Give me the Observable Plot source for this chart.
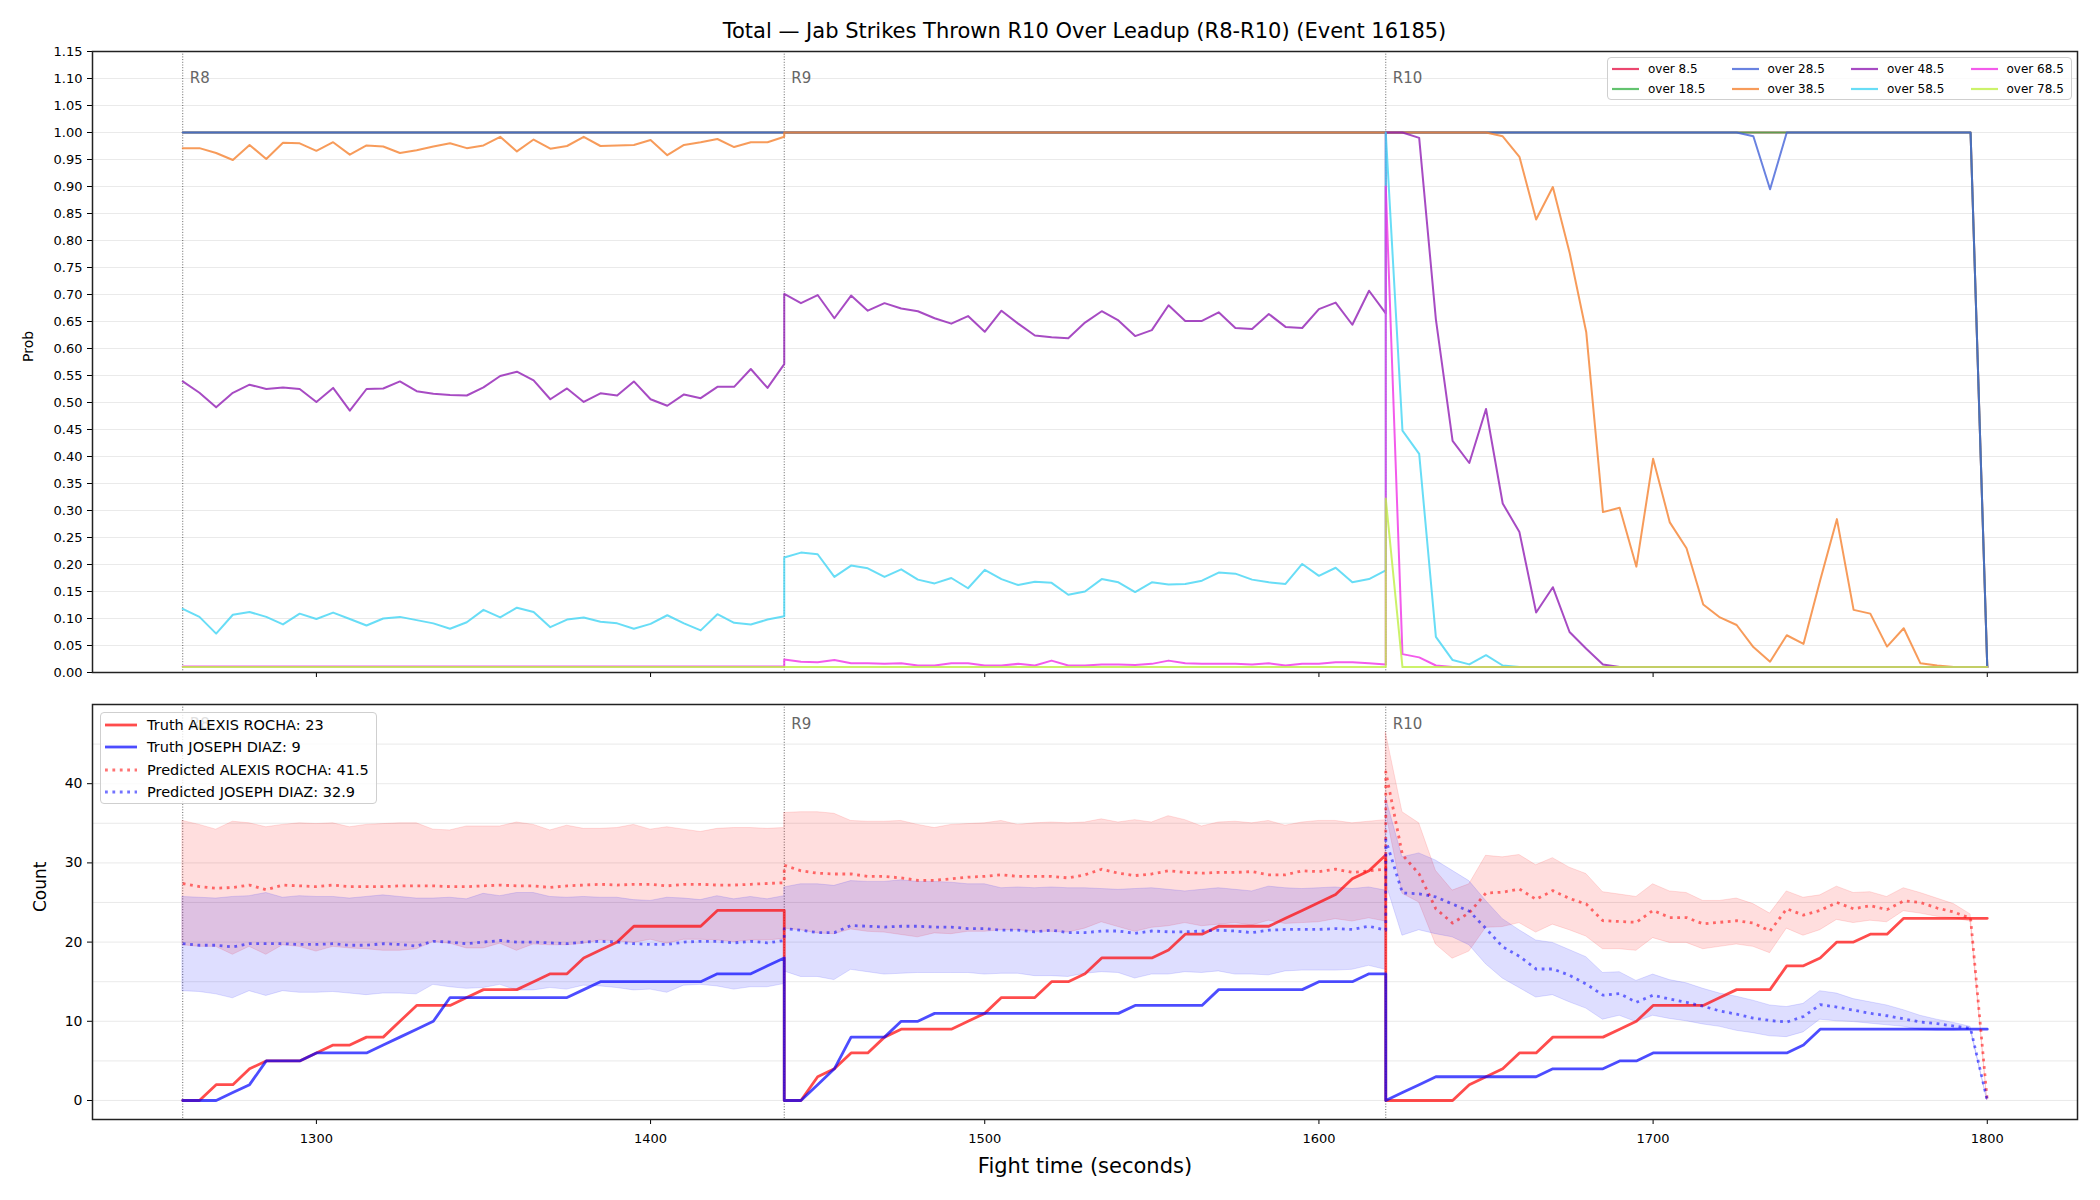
<!DOCTYPE html>
<html><head><meta charset="utf-8">
<script src="https://cdn.jsdelivr.net/npm/d3@7"></script>
<script src="https://cdn.jsdelivr.net/npm/@observablehq/plot@0.6"></script>
<style>
html,body{margin:0;padding:0;background:#fff;}
body{width:2100px;height:1200px;position:relative;overflow:hidden;font-family:"DejaVu Sans",sans-serif;color:#000;}
#title{position:absolute;left:92px;width:1985px;top:18px;text-align:center;font-size:21px;line-height:26px;}
#top{position:absolute;left:0;top:40px;}
#bottom{position:absolute;left:0;top:688px;}
.legend{position:absolute;background:rgba(255,255,255,0.8);border:1px solid #cfcfcf;border-radius:4px;box-sizing:border-box;}
.item{position:absolute;display:flex;align-items:center;white-space:nowrap;}
.item svg{display:block;}
</style></head><body>
<div id="title"></div>
<div id="top"></div>
<div id="bottom"></div>
<div id="legTop" class="legend"></div>
<div id="legBot" class="legend"></div>
<script>
// ---------------- DATA ----------------
const titleText = "Total — Jab Strikes Thrown R10 Over Leadup (R8-R10) (Event 16185)";
const roundStarts = [1260, 1440, 1620];
const roundNames = ["R8", "R9", "R10"];
const stepSeconds = 5;
const pointsPerRound = 37;
const xTicks = [1300, 1400, 1500, 1600, 1700, 1800];
const probTicks = [0,0.05,0.1,0.15,0.2,0.25,0.3,0.35,0.4,0.45,0.5,0.55,0.6,0.65,0.7,0.75,0.8,0.85,0.9,0.95,1,1.05,1.1,1.15];
const countTicks = [0, 10, 20, 30, 40];
const countGrid = [0, 5, 10, 15, 20, 25, 30, 35, 40, 45];
const thresholdLabels = ["over 8.5","over 18.5","over 28.5","over 38.5","over 48.5","over 58.5","over 68.5","over 78.5"];

const pOver8 = [
1,1,1,1,1,1,1,1,1,1,1,1,1,1,1,1,1,1,1,1,1,1,1,1,1,1,1,1,1,1,1,1,1,1,1,1,1,
1,1,1,1,1,1,1,1,1,1,1,1,1,1,1,1,1,1,1,1,1,1,1,1,1,1,1,1,1,1,1,1,1,1,1,1,1,
1,1,1,1,1,1,1,1,1,1,1,1,1,1,1,1,1,1,1,1,1,1,1,1,1,1,1,1,1,1,1,1,1,1,1,1,0.01];
const pOver18 = [
1,1,1,1,1,1,1,1,1,1,1,1,1,1,1,1,1,1,1,1,1,1,1,1,1,1,1,1,1,1,1,1,1,1,1,1,1,
1,1,1,1,1,1,1,1,1,1,1,1,1,1,1,1,1,1,1,1,1,1,1,1,1,1,1,1,1,1,1,1,1,1,1,1,1,
1,1,1,1,1,1,1,1,1,1,1,1,1,1,1,1,1,1,1,1,1,1,1,1,1,1,1,1,1,1,1,1,1,1,1,1,0.01];
const pOver28 = [
1,1,1,1,1,1,1,1,1,1,1,1,1,1,1,1,1,1,1,1,1,1,1,1,1,1,1,1,1,1,1,1,1,1,1,1,1,
1,1,1,1,1,1,1,1,1,1,1,1,1,1,1,1,1,1,1,1,1,1,1,1,1,1,1,1,1,1,1,1,1,1,1,1,1,
1,1,1,1,1,1,1,1,1,1,1,1,1,1,1,1,1,1,1,1,1,1,0.993,0.895,1,1,1,1,1,1,1,1,1,1,1,1,0.01];
const pOver38 = [
0.971,0.971,0.962,0.949,0.977,0.951,0.981,0.980,0.966,0.982,0.959,0.976,0.974,0.962,0.967,0.974,0.980,0.971,0.976,0.992,0.965,0.987,0.970,0.975,0.992,0.975,0.976,0.977,0.986,0.958,0.977,0.982,0.988,0.973,0.982,0.982,0.992,
1,1,1,1,1,1,1,1,1,1,1,1,1,1,1,1,1,1,1,1,1,1,1,1,1,1,1,1,1,1,1,1,1,1,1,1,1,
1,1,1,1,1,1,1,0.993,0.955,0.839,0.899,0.778,0.63,0.297,0.305,0.196,0.396,0.278,0.23,0.126,0.102,0.088,0.047,0.02,0.069,0.053,0.171,0.284,0.116,0.109,0.048,0.082,0.017,0.013,0.01,0.01,0.01];
const pOver48 = [
0.539,0.518,0.491,0.518,0.533,0.525,0.528,0.525,0.501,0.527,0.485,0.525,0.526,0.539,0.521,0.516,0.514,0.513,0.528,0.549,0.557,0.541,0.506,0.526,0.501,0.517,0.513,0.539,0.506,0.494,0.515,0.508,0.529,0.529,0.562,0.527,0.571,
0.701,0.684,0.699,0.656,0.698,0.670,0.684,0.674,0.669,0.656,0.646,0.660,0.631,0.670,0.646,0.624,0.621,0.619,0.648,0.669,0.652,0.623,0.634,0.680,0.651,0.651,0.667,0.638,0.636,0.664,0.640,0.638,0.673,0.685,0.644,0.707,0.665,
1,1,0.99,0.654,0.429,0.388,0.488,0.313,0.26,0.111,0.158,0.075,0.044,0.015,0.01,0.01,0.01,0.01,0.01,0.01,0.01,0.01,0.01,0.01,0.01,0.01,0.01,0.01,0.01,0.01,0.01,0.01,0.01,0.01,0.01,0.01,0.01];
const pOver58 = [
0.118,0.103,0.072,0.107,0.112,0.103,0.089,0.109,0.099,0.111,0.099,0.087,0.100,0.103,0.097,0.091,0.081,0.093,0.116,0.102,0.120,0.112,0.084,0.098,0.102,0.094,0.091,0.081,0.090,0.106,0.091,0.078,0.108,0.092,0.089,0.098,0.104,
0.213,0.222,0.219,0.177,0.198,0.193,0.177,0.191,0.172,0.165,0.175,0.156,0.190,0.173,0.162,0.168,0.166,0.144,0.150,0.173,0.167,0.149,0.167,0.163,0.164,0.170,0.185,0.183,0.172,0.167,0.164,0.201,0.179,0.194,0.167,0.173,0.189,
1,0.448,0.405,0.066,0.023,0.015,0.032,0.013,0.01,0.01,0.01,0.01,0.01,0.01,0.01,0.01,0.01,0.01,0.01,0.01,0.01,0.01,0.01,0.01,0.01,0.01,0.01,0.01,0.01,0.01,0.01,0.01,0.01,0.01,0.01,0.01,0.01];
const pOver68 = [
0.011,0.011,0.011,0.011,0.011,0.011,0.011,0.011,0.011,0.011,0.011,0.011,0.011,0.011,0.011,0.011,0.011,0.011,0.011,0.011,0.011,0.011,0.011,0.011,0.011,0.011,0.011,0.011,0.011,0.011,0.011,0.011,0.011,0.011,0.011,0.011,0.011,
0.024,0.020,0.019,0.023,0.017,0.017,0.016,0.017,0.013,0.013,0.017,0.017,0.013,0.013,0.016,0.013,0.022,0.013,0.013,0.015,0.015,0.014,0.016,0.022,0.017,0.016,0.016,0.016,0.015,0.017,0.013,0.016,0.016,0.019,0.019,0.017,0.015,
0.90,0.034,0.028,0.013,0.01,0.01,0.01,0.01,0.01,0.01,0.01,0.01,0.01,0.01,0.01,0.01,0.01,0.01,0.01,0.01,0.01,0.01,0.01,0.01,0.01,0.01,0.01,0.01,0.01,0.01,0.01,0.01,0.01,0.01,0.01,0.01,0.01];
const pOver78 = [
0.01,0.01,0.01,0.01,0.01,0.01,0.01,0.01,0.01,0.01,0.01,0.01,0.01,0.01,0.01,0.01,0.01,0.01,0.01,0.01,0.01,0.01,0.01,0.01,0.01,0.01,0.01,0.01,0.01,0.01,0.01,0.01,0.01,0.01,0.01,0.01,0.01,
0.01,0.01,0.01,0.01,0.01,0.01,0.01,0.01,0.01,0.01,0.01,0.01,0.01,0.01,0.01,0.01,0.01,0.01,0.01,0.01,0.01,0.01,0.01,0.01,0.01,0.01,0.01,0.01,0.01,0.01,0.01,0.01,0.01,0.01,0.01,0.01,0.01,
0.322,0.01,0.01,0.01,0.01,0.01,0.01,0.01,0.01,0.01,0.01,0.01,0.01,0.01,0.01,0.01,0.01,0.01,0.01,0.01,0.01,0.01,0.01,0.01,0.01,0.01,0.01,0.01,0.01,0.01,0.01,0.01,0.01,0.01,0.01,0.01,0.01];

const fighterNames = ["ALEXIS ROCHA", "JOSEPH DIAZ"];
const predictedLegendValues = [41.5, 32.9];

const truthRocha = [
0,0,2,2,4,5,5,5,6,7,7,8,8,10,12,12,12,13,14,14,14,15,16,16,18,19,20,22,22,22,22,22,24,24,24,24,24,
0,0,3,4,6,6,8,9,9,9,9,10,11,13,13,13,15,15,16,18,18,18,18,19,21,21,22,22,22,22,23,24,25,26,28,29,31,
0,0,0,0,0,2,3,4,6,6,8,8,8,8,9,10,12,12,12,12,13,14,14,14,17,17,18,20,20,21,21,23,23,23,23,23,23];
const truthDiaz = [
0,0,0,1,2,5,5,5,6,6,6,6,7,8,9,10,13,13,13,13,13,13,13,13,14,15,15,15,15,15,15,15,16,16,16,17,18,
0,0,2,4,8,8,8,10,10,11,11,11,11,11,11,11,11,11,11,11,11,12,12,12,12,12,14,14,14,14,14,14,15,15,15,16,16,
0,1,2,3,3,3,3,3,3,3,4,4,4,4,5,5,6,6,6,6,6,6,6,6,6,7,9,9,9,9,9,9,9,9,9,9,9];
const predRocha = [
27.4,27.0,26.8,26.9,27.2,26.6,27.2,27.1,27.0,27.2,27.0,27.0,27.0,27.1,27.1,27.1,27.0,27.0,27.1,27.2,27.1,27.1,26.9,27.1,27.2,27.3,27.2,27.3,27.3,27.1,27.3,27.3,27.2,27.2,27.3,27.4,27.5,
29.7,29.0,28.7,28.6,28.6,28.3,28.3,28.1,27.8,27.8,28.0,28.2,28.3,28.5,28.3,28.3,28.3,28.1,28.5,29.2,28.7,28.4,28.6,29.0,28.8,28.7,28.8,28.8,28.9,28.5,28.5,29.0,28.9,29.2,28.8,29.0,29.2,
41.5,31.0,28.6,24.2,22.4,23.7,26.2,26.3,26.7,25.4,26.5,25.5,24.8,22.7,22.6,22.5,24.0,23.1,23.1,22.3,22.5,22.7,22.4,21.4,24.2,23.4,24.0,25.0,24.2,24.6,24.1,25.2,25.0,24.3,23.8,23.0,0];
const predDiaz = [
19.8,19.6,19.6,19.4,19.8,19.8,19.8,19.7,19.7,19.8,19.6,19.6,19.8,19.7,19.5,20.1,20.0,19.8,20.0,20.2,20.0,20.0,19.9,19.8,20.0,20.1,20.0,19.8,19.7,19.7,20.0,20.1,20.1,19.9,20.1,19.9,20.2,
21.7,21.5,21.2,21.2,22.1,22.0,21.9,22.0,22.0,21.9,21.9,21.7,21.7,21.5,21.5,21.3,21.5,21.2,21.2,21.4,21.4,21.1,21.4,21.3,21.3,21.4,21.5,21.4,21.2,21.5,21.6,21.6,21.6,21.7,21.6,22.0,21.5,
32.9,26.2,26.1,25.7,24.8,23.9,21.7,19.4,18.2,16.6,16.6,15.8,14.7,13.3,13.5,12.4,13.3,12.8,12.4,11.9,11.3,10.9,10.4,10.1,9.9,10.6,12.1,11.8,11.4,11.0,10.7,10.3,9.9,9.7,9.4,9.1,0];
const rochaUpper = [
35.3,34.8,34.2,35.2,35.0,34.5,34.8,35.0,34.9,35.0,34.5,34.8,34.9,35.0,35.0,34.2,34.1,34.6,34.6,34.6,35.1,34.8,34.1,34.7,34.3,34.3,34.4,34.8,34.2,34.5,34.2,33.9,34.3,34.4,34.4,34.3,34.4,
36.3,36.4,36.4,36.2,35.3,35.2,35.2,35.3,34.8,34.4,34.8,34.9,35.0,35.3,34.8,35.0,35.1,35.0,35.1,35.5,35.1,35.4,35.1,35.9,35.4,34.6,35.1,35.2,35.0,35.3,34.7,35.1,35.3,35.3,35.0,35.2,35.4,
46.5,36.4,35.0,29.0,26.5,27.3,30.9,30.7,31.0,29.7,30.6,29.4,28.6,26.3,26.0,25.7,27.3,26.4,26.2,25.2,25.2,25.5,24.8,23.6,26.4,25.6,25.9,27.0,26.2,26.3,25.7,26.8,26.2,25.5,24.8,23.5,0];
const rochaLower = [
19.6,19.4,19.4,18.4,19.4,18.4,19.6,19.4,18.8,19.4,19.2,19.1,18.9,18.9,19.1,20.0,19.8,19.2,19.2,19.8,18.9,19.7,19.6,19.6,19.8,20.2,20.1,19.9,20.3,19.8,20.3,20.3,20.2,20.0,20.2,20.2,20.4,
21.7,21.5,21.1,21.0,21.6,21.3,21.2,20.9,20.6,21.1,21.0,21.3,21.3,21.5,21.5,21.3,21.3,21.2,21.7,22.5,21.9,21.3,21.8,22.0,22.4,22.0,22.2,22.4,22.1,22.7,22.3,22.4,22.5,22.9,22.6,23.0,22.6,
36.5,26.1,25.0,19.7,17.9,18.8,21.8,21.9,22.4,21.2,22.2,21.5,20.7,19.1,19.1,18.9,20.5,19.9,19.9,19.1,19.4,19.7,19.4,18.6,21.7,20.8,21.5,22.8,22.4,22.7,22.5,23.9,23.6,23.2,23.0,22.6,0];
const diazUpper = [
25.7,25.6,25.5,25.7,25.8,26.2,25.6,25.8,25.7,25.7,25.5,25.7,25.9,25.7,25.5,25.5,25.6,25.4,26.1,25.8,26.2,26.2,25.7,25.6,25.7,25.6,25.6,25.3,25.2,25.6,25.5,25.3,25.8,25.4,25.7,25.4,25.8,
26.9,27.3,27.3,27.1,27.7,27.6,27.6,27.8,27.6,27.6,27.5,27.3,27.3,26.8,26.9,26.8,26.9,26.8,26.8,26.7,26.6,26.7,26.8,26.6,26.4,26.6,26.8,26.6,26.4,27.0,26.8,26.7,26.8,26.9,26.7,26.9,26.5,
38.3,30.7,31.2,30.3,29.0,27.7,25.2,22.9,21.5,20.2,19.9,19.0,18.1,16.1,16.2,15.1,15.9,15.2,14.8,14.1,13.5,13.1,12.6,12.0,11.8,12.2,13.8,13.5,12.8,12.4,12.0,11.4,10.7,10.2,9.8,9.3,0];
const diazLower = [
13.8,13.7,13.4,12.9,13.8,13.2,13.8,13.6,13.6,13.7,13.5,13.3,13.5,13.5,13.4,14.6,14.3,14.1,14.2,14.6,13.9,13.9,14.2,14.0,14.5,14.4,14.2,13.9,14.0,13.6,14.5,14.6,14.4,14.0,14.3,14.3,14.7,
16.3,15.6,15.6,15.2,16.5,16.2,15.9,16.0,16.1,16.1,16.1,16.1,15.9,16.0,16.0,15.7,15.7,15.6,16.0,16.2,16.1,15.4,15.9,15.9,16.2,16.1,16.3,15.9,15.9,15.8,16.3,16.4,16.4,16.4,16.5,17.0,16.5,
27.5,20.8,21.5,21.0,20.6,19.6,17.2,15.4,14.2,13.0,13.3,12.4,11.6,10.2,10.7,9.9,10.7,10.3,10.0,9.6,9.3,8.8,8.5,8.1,8.0,8.6,10.2,10.0,9.9,9.7,9.5,9.3,8.9,8.8,8.8,8.9,0];

// ---------------- STYLES ----------------
const thresholdColors = ["#e6194b","#3cb44b","#4363d8","#f58231","#911eb4","#42d4f4","#f032e6","#bfef45"];
const fighterColors = ["red", "blue"];
const FONT = "DejaVu Sans";

// ---------------- BUILD ----------------
const times = roundStarts.flatMap(s => d3.range(pointsPerRound).map(i => s + i * stepSeconds));
const probSeries = [pOver8, pOver18, pOver28, pOver38, pOver48, pOver58, pOver68, pOver78];
const allSeries = {pOver8,pOver18,pOver28,pOver38,pOver48,pOver58,pOver68,pOver78,truthRocha,truthDiaz,predRocha,predDiaz,rochaUpper,rochaLower,diazUpper,diazLower};
for (const [k, a] of Object.entries(allSeries)) if (a.length !== times.length) throw new Error(k + " has " + a.length + " values, expected " + times.length);

const rows = arr => times.map((t, i) => ({t, v: arr[i]}));
const bandRows = (lo, hi) => times.map((t, i) => ({t, lo: lo[i], hi: hi[i]}));
const xDomain = [1233, 1827];

document.getElementById("title").textContent = titleText;

const roundRule = Plot.ruleX(roundStarts, {stroke: "#333", strokeOpacity: 0.75, strokeWidth: 1, strokeDasharray: "1,1.7"});
const frame = () => Plot.frame({stroke: "#222", strokeWidth: 1.5});

const topPlot = Plot.plot({
  width: 2100, height: 648,
  marginLeft: 92, marginRight: 23, marginTop: 11, marginBottom: 16,
  style: {fontFamily: FONT, fontSize: "13px", background: "transparent", color: "#000", overflow: "visible"},
  x: {domain: xDomain},
  y: {domain: [0, 1.15]},
  marks: [
    Plot.gridY(probTicks, {stroke: "#b0b0b0", strokeOpacity: 0.3, strokeWidth: 0.9}),
    roundRule,
    ...probSeries.map((arr, i) => Plot.line(rows(arr), {x: "t", y: "v", stroke: thresholdColors[i], strokeOpacity: 0.8, strokeWidth: 2})),
    Plot.text(roundNames, {x: (d, i) => roundStarts[i], y: 1.10, text: d => d, textAnchor: "start", dx: 7, fill: "#666", fontSize: 15}),
    Plot.axisX(xTicks, {tickSize: 5, tickFormat: () => "", label: null}),
    Plot.axisY(probTicks, {tickSize: 5, tickPadding: 5, tickFormat: d3.format(".2f"), fontSize: 13, label: null}),
    Plot.text(["Prob"], {text: d => d, frameAnchor: "left", dx: -64, rotate: -90, fontSize: 14}),
    frame()
  ]
});
document.getElementById("top").appendChild(topPlot);

const predDash = "2.8,4.6";
const botPlot = Plot.plot({
  width: 2100, height: 512,
  marginLeft: 92, marginRight: 23, marginTop: 16, marginBottom: 81,
  style: {fontFamily: FONT, fontSize: "13px", background: "transparent", color: "#000", overflow: "visible"},
  x: {domain: xDomain},
  y: {domain: [-2.4, 50.0]},
  marks: [
    Plot.gridY(countGrid, {stroke: "#b0b0b0", strokeOpacity: 0.3, strokeWidth: 0.9}),
    roundRule,
    Plot.areaY(bandRows(rochaLower, rochaUpper), {x: "t", y1: "lo", y2: "hi", fill: fighterColors[0], fillOpacity: 0.13, stroke: fighterColors[0], strokeOpacity: 0.12, strokeWidth: 1}),
    Plot.areaY(bandRows(diazLower, diazUpper), {x: "t", y1: "lo", y2: "hi", fill: fighterColors[1], fillOpacity: 0.13, stroke: fighterColors[1], strokeOpacity: 0.12, strokeWidth: 1}),
    Plot.line(rows(truthRocha), {x: "t", y: "v", stroke: fighterColors[0], strokeOpacity: 0.7, strokeWidth: 2.8}),
    Plot.line(rows(truthDiaz), {x: "t", y: "v", stroke: fighterColors[1], strokeOpacity: 0.7, strokeWidth: 2.8}),
    Plot.line(rows(predRocha), {x: "t", y: "v", stroke: fighterColors[0], strokeOpacity: 0.55, strokeWidth: 2.8, strokeDasharray: predDash, strokeLinecap: "butt"}),
    Plot.line(rows(predDiaz), {x: "t", y: "v", stroke: fighterColors[1], strokeOpacity: 0.55, strokeWidth: 2.8, strokeDasharray: predDash, strokeLinecap: "butt"}),
    Plot.text(roundNames, {x: (d, i) => roundStarts[i], y: 47.5, text: d => d, textAnchor: "start", dx: 7, fill: "#666", fontSize: 15}),
    Plot.axisX(xTicks, {tickSize: 5, tickPadding: 9, fontSize: 13, tickFormat: d => String(d), label: null}),
    Plot.axisY(countTicks, {tickSize: 5, tickPadding: 5, fontSize: 14, label: null}),
    Plot.text(["Count"], {text: d => d, frameAnchor: "left", dx: -52, rotate: -90, fontSize: 17}),
    Plot.text(["Fight time (seconds)"], {text: d => d, frameAnchor: "bottom", dy: 53, fontSize: 21}),
    frame()
  ]
});
document.getElementById("bottom").appendChild(botPlot);

// ---------------- LEGENDS ----------------
function handle(color, opacity, width, dash, len) {
  return `<svg width="${len}" height="10"><line x1="0" x2="${len}" y1="5" y2="5" stroke="${color}" stroke-opacity="${opacity}" stroke-width="${width}" ${dash ? `stroke-dasharray="${dash}"` : ""}/></svg>`;
}
const legTop = document.getElementById("legTop");
Object.assign(legTop.style, {left: "1607px", top: "57px", width: "465px", height: "43px"});
thresholdLabels.forEach((lab, i) => {
  const col = Math.floor(i / 2), row = i % 2;
  const el = document.createElement("div");
  el.className = "item";
  Object.assign(el.style, {left: (4 + col * 119.5) + "px", top: (row === 0 ? 3 : 23) + "px", height: "16px", fontSize: "12px"});
  el.innerHTML = handle(thresholdColors[i], 0.8, 2.2, null, 27) + `<span style="margin-left:9px">${lab}</span>`;
  legTop.appendChild(el);
});

const legBot = document.getElementById("legBot");
Object.assign(legBot.style, {left: "100px", top: "712px", width: "277px", height: "92px"});
const botItems = [
  {label: `Truth ${fighterNames[0]}: ${truthRocha[truthRocha.length - 1]}`, color: fighterColors[0], op: 0.7, dash: null},
  {label: `Truth ${fighterNames[1]}: ${truthDiaz[truthDiaz.length - 1]}`, color: fighterColors[1], op: 0.7, dash: null},
  {label: `Predicted ${fighterNames[0]}: ${predictedLegendValues[0]}`, color: fighterColors[0], op: 0.55, dash: predDash},
  {label: `Predicted ${fighterNames[1]}: ${predictedLegendValues[1]}`, color: fighterColors[1], op: 0.55, dash: predDash}
];
const botCenters = [11.5, 34, 56.5, 78.5];
botItems.forEach((it, i) => {
  const el = document.createElement("div");
  el.className = "item";
  Object.assign(el.style, {left: "4px", top: (botCenters[i] - 10) + "px", height: "20px", fontSize: "14.5px"});
  el.innerHTML = handle(it.color, it.op, 2.8, it.dash, 32) + `<span style="margin-left:10px">${it.label}</span>`;
  legBot.appendChild(el);
});
</script></body></html>
